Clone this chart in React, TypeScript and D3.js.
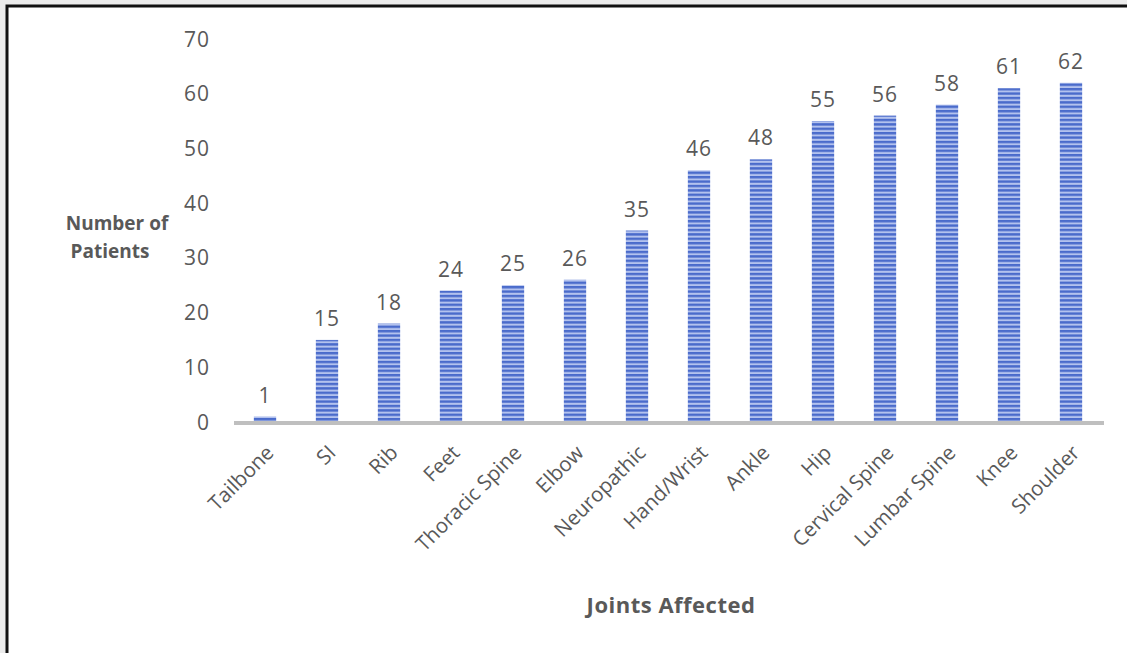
import React, { useEffect, useRef } from "react";
import * as d3 from "d3";

const joints = [
  "Tailbone",
  "SI",
  "Rib",
  "Feet",
  "Thoracic Spine",
  "Elbow",
  "Neuropathic",
  "Hand/Wrist",
  "Ankle",
  "Hip",
  "Cervical Spine",
  "Lumbar Spine",
  "Knee",
  "Shoulder",
];
const patients = [1, 15, 18, 24, 25, 26, 35, 46, 48, 55, 56, 58, 61, 62];
const yTicks = [0, 10, 20, 30, 40, 50, 60, 70];

const W = 1127;
const H = 653;
const FONT = "'Open Sans', 'Noto Sans', sans-serif";
const TEXT = "#595959";

const App = () => {
  const ref = useRef<SVGSVGElement | null>(null);

  useEffect(() => {
    const svg = d3.select(ref.current);
    svg.selectAll("*").remove();

    // page background and chart frame
    svg.append("rect").attr("width", W).attr("height", H).attr("fill", "#ececec");
    svg
      .append("rect")
      .attr("x", 7)
      .attr("y", 6)
      .attr("width", W + 20)
      .attr("height", H + 20)
      .attr("fill", "#fff")
      .attr("stroke", "#111")
      .attr("stroke-width", 3);

    // stripe pattern for bars
    const defs = svg.append("defs");
    const pat = defs
      .append("pattern")
      .attr("id", "stripes")
      .attr("patternUnits", "userSpaceOnUse")
      .attr("width", 8)
      .attr("height", 4.4);
    pat.append("rect").attr("width", 8).attr("height", 4.4).attr("fill", "#b3c2ee");
    pat.append("rect").attr("width", 8).attr("height", 2.4).attr("fill", "#4a6bcb");

    const x = d3.scaleBand<string>().domain(joints).range([234, 1102]).paddingInner(0.64).paddingOuter(0.32);
    const y = d3.scaleLinear().domain([0, 70]).range([422, 39]);

    // y tick labels
    svg
      .append("g")
      .selectAll("text")
      .data(yTicks)
      .enter()
      .append("text")
      .attr("x", 210)
      .attr("y", (d) => y(d))
      .attr("dy", "0.36em")
      .attr("text-anchor", "end")
      .attr("font-family", FONT)
      .attr("font-size", 21)
      .attr("letter-spacing", 1)
      .attr("fill", TEXT)
      .text((d) => d);

    // bars
    svg
      .append("g")
      .selectAll("rect")
      .data(patients)
      .enter()
      .append("rect")
      .attr("x", (d, i) => x(joints[i])!)
      .attr("y", (d) => y(d))
      .attr("width", x.bandwidth())
      .attr("height", (d) => y(0) - y(d))
      .attr("fill", "url(#stripes)");

    // value labels
    svg
      .append("g")
      .selectAll("text")
      .data(patients)
      .enter()
      .append("text")
      .attr("x", (d, i) => x(joints[i])! + x.bandwidth() / 2)
      .attr("y", (d) => y(d) - 14)
      .attr("text-anchor", "middle")
      .attr("font-family", FONT)
      .attr("font-size", 21)
      .attr("letter-spacing", 1)
      .attr("fill", TEXT)
      .text((d) => d);

    // x axis line
    svg
      .append("line")
      .attr("x1", 234)
      .attr("x2", 1104)
      .attr("y1", y(0) + 1)
      .attr("y2", y(0) + 1)
      .attr("stroke", "#bfbfbf")
      .attr("stroke-width", 4);

    // rotated category labels
    svg
      .append("g")
      .selectAll("text")
      .data(joints)
      .enter()
      .append("text")
      .attr("transform", (d) => `translate(${x(d)! + x.bandwidth() / 2 + 10},${y(0) + 32}) rotate(-45)`)
      .attr("text-anchor", "end")
      .attr("font-family", FONT)
      .attr("font-size", 20.5)
      .attr("fill", TEXT)
      .text((d) => d);

    // axis titles
    const yTitle = svg
      .append("text")
      .attr("text-anchor", "middle")
      .attr("font-family", FONT)
      .attr("font-size", 19)
      .attr("font-weight", "bold")
      .attr("fill", TEXT);
    yTitle.append("tspan").attr("x", 117).attr("y", 230).text("Number of");
    yTitle.append("tspan").attr("x", 110).attr("y", 258).text("Patients");

    svg
      .append("text")
      .attr("x", 671)
      .attr("y", 613)
      .attr("text-anchor", "middle")
      .attr("font-family", FONT)
      .attr("font-size", 22)
      .attr("font-weight", "bold")
      .attr("letter-spacing", 0.5)
      .attr("fill", TEXT)
      .text("Joints Affected");
  }, []);

  return (
    <>
      <style>{"body{margin:0}"}</style>
      <svg ref={ref} width={W} height={H} style={{ display: "block" }} />
    </>
  );
};

export default App;
